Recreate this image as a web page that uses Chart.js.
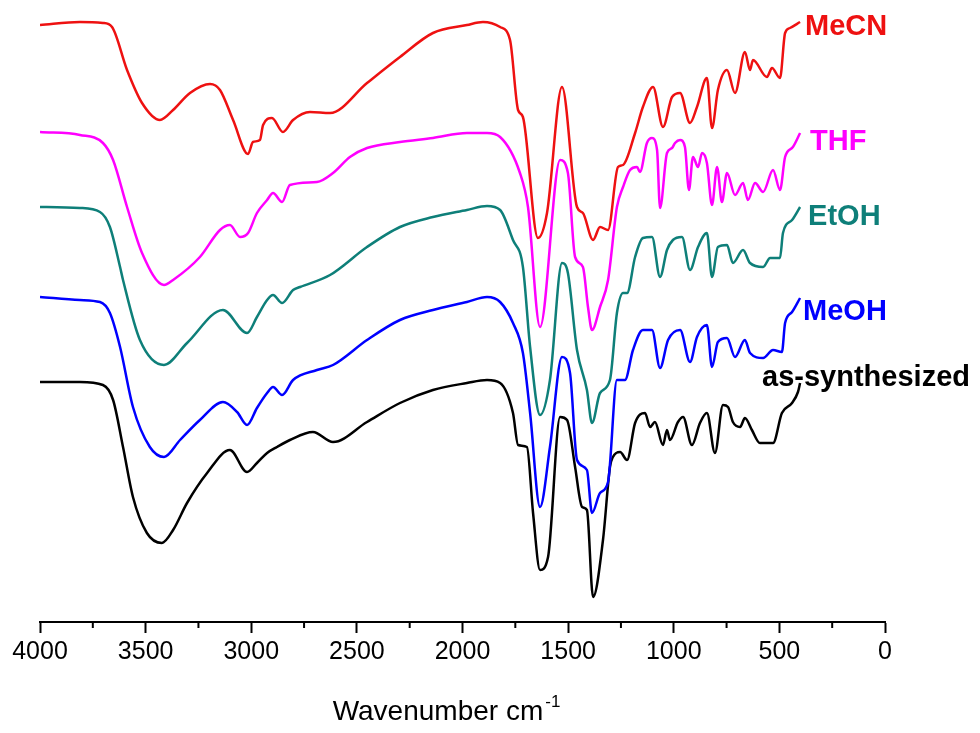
<!DOCTYPE html>
<html>
<head>
<meta charset="utf-8">
<script src="https://cdn.jsdelivr.net/npm/chart.js@4.4.0/dist/chart.umd.min.js"></script>
<style>
  html, body { margin: 0; padding: 0; background: #fff; }
  #wrap { width: 980px; height: 733px; }
</style>
</head>
<body>
<div id="wrap"><canvas id="irChart" width="980" height="733"></canvas></div>
<script>
// wavenumbers (cm-1) and offset transmittance (arbitrary units)
const mecnX = [4000,3811,3702,3659,3588,3517,3432,3370,3290,3195,3148,3086,3015,2992,2959,2944,2902,2850,2802,2722,2627,2452,2296,2140,1979,1903,1822,1775,1737,1714,1643,1600,1529,1458,1430,1382,1349,1311,1264,1240,1183,1146,1098,1051,1008,970,923,890,843,819,791,748,710,663,639,625,559,535,497,473,450,402];
const mecnY = [597,600,599,595,552,519,502,512,529,538,532,502,468,480,482,497,504,490,502,510,509,539,565,589,597,600,595,582,512,505,384,409,535,415,409,382,395,392,455,457,489,515,535,495,525,529,499,515,544,494,532,552,529,570,552,562,545,554,544,589,594,600];

const thfX = [4000,3811,3702,3654,3588,3517,3413,3370,3243,3148,3101,3053,3015,2973,2925,2897,2854,2817,2689,2613,2533,2452,2296,2140,1979,1884,1822,1728,1690,1633,1538,1501,1467,1430,1406,1387,1349,1311,1269,1240,1207,1174,1160,1127,1103,1079,1065,1032,1008,994,970,947,928,909,885,866,843,819,795,772,748,710,672,649,615,577,530,497,473,436,402];
const thfY = [490,487,479,462,415,369,337,342,365,392,397,385,389,409,422,429,420,437,440,449,465,474,480,484,489,489,485,449,415,295,462,449,365,355,315,292,315,342,415,435,452,455,450,479,484,472,414,469,474,479,482,475,432,465,455,469,459,417,455,420,449,427,439,422,439,430,452,432,465,475,489];

const etohX = [4000,3811,3716,3669,3621,3607,3527,3413,3304,3134,3020,2973,2925,2897,2854,2802,2769,2627,2452,2296,2140,1979,1884,1822,1761,1714,1680,1633,1586,1529,1501,1458,1411,1387,1349,1302,1269,1240,1221,1183,1146,1103,1065,1032,1004,961,923,885,843,819,791,748,720,672,639,577,544,497,483,440,402];
const etohY = [415,414,410,395,355,342,282,257,279,312,289,305,322,327,319,332,335,347,375,395,405,412,416,412,382,355,275,207,242,359,349,272,232,199,229,242,309,329,329,365,384,385,345,372,382,385,352,375,389,345,375,377,359,372,359,355,364,364,389,402,415];

const meohX = [4000,3811,3716,3669,3621,3560,3480,3413,3337,3243,3134,3067,3020,2973,2925,2897,2854,2802,2689,2613,2452,2296,2140,1979,1884,1822,1761,1714,1680,1633,1586,1529,1491,1458,1411,1387,1349,1311,1269,1231,1193,1146,1103,1065,1027,970,923,890,843,819,791,748,710,663,639,577,530,488,473,440,402];
const meohY = [325,322,320,309,275,215,175,165,182,202,220,210,197,214,229,235,227,242,252,257,282,302,312,320,325,320,299,269,209,115,175,265,249,162,152,109,129,140,242,242,272,292,292,254,282,292,260,285,297,255,280,284,265,282,269,264,272,270,299,310,324];

const asX = [4000,3811,3702,3654,3607,3560,3494,3423,3370,3304,3209,3101,3020,2973,2925,2878,2817,2708,2613,2452,2296,2140,1979,1884,1822,1761,1737,1695,1666,1633,1595,1538,1505,1467,1434,1411,1382,1335,1302,1288,1254,1221,1183,1136,1112,1089,1051,1032,1018,980,956,914,876,843,805,767,743,720,686,663,630,592,530,488,440,412,402];
const asY = [240,240,237,222,175,125,89,79,92,119,149,172,150,159,169,175,182,190,180,200,219,232,239,242,239,209,177,175,109,52,65,205,202,155,115,112,25,82,155,165,170,162,199,209,195,200,177,192,182,200,205,177,199,209,169,217,215,200,195,204,192,179,179,209,219,230,239];

const seriesNames = ['MeCN', 'THF', 'EtOH', 'MeOH', 'as-synthesized'];
const xTicks = [4000, 3500, 3000, 2500, 2000, 1500, 1000, 500, 0];
const xMinorTicks = [3750, 3250, 2750, 2250, 1750, 1250, 750, 250];

function pts(xs, ys) {
  return xs.map((x, i) => ({ x: x, y: ys[i] }));
}

function line(name, xs, ys, color, dx, dy) {
  return {
    label: name,
    data: pts(xs, ys),
    borderColor: color,
    borderWidth: 2.5,
    pointRadius: 0,
    fill: false,
    cubicInterpolationMode: 'monotone',
    labelDx: dx,
    labelDy: dy
  };
}

const extras = {
  id: 'extras',
  afterDraw(chart) {
    const ctx = chart.ctx;
    const area = chart.chartArea;
    const xs = chart.scales.x;
    ctx.save();

    // minor ticks
    ctx.strokeStyle = '#000';
    ctx.lineWidth = 2;
    xMinorTicks.forEach(v => {
      const px = xs.getPixelForValue(v);
      ctx.beginPath();
      ctx.moveTo(px, area.bottom);
      ctx.lineTo(px, area.bottom + 6);
      ctx.stroke();
    });

    // series labels at the end of each trace
    ctx.font = "bold 29px 'Liberation Sans', Arial, sans-serif";
    ctx.textBaseline = 'middle';
    ctx.textAlign = 'left';
    chart.data.datasets.forEach((ds, i) => {
      const meta = chart.getDatasetMeta(i);
      const last = meta.data[meta.data.length - 1];
      ctx.fillStyle = ds.borderColor;
      ctx.fillText(ds.label, last.x + ds.labelDx, last.y + ds.labelDy);
    });

    // axis title with superscript
    const main = 'Wavenumber cm';
    const sup = '-1';
    ctx.fillStyle = '#000';
    ctx.textBaseline = 'alphabetic';
    ctx.font = "28px 'Liberation Sans', Arial, sans-serif";
    const w1 = ctx.measureText(main).width;
    ctx.font = "17px 'Liberation Sans', Arial, sans-serif";
    const w2 = ctx.measureText(sup).width;
    const x0 = (area.left + area.right) / 2 - 17 - (w1 + w2) / 2;
    const yBase = area.bottom + 98;
    ctx.font = "28px 'Liberation Sans', Arial, sans-serif";
    ctx.fillText(main, x0, yBase);
    ctx.font = "17px 'Liberation Sans', Arial, sans-serif";
    ctx.fillText(sup, x0 + w1 + 2, yBase - 13);

    ctx.restore();
  }
};

new Chart(document.getElementById('irChart'), {
  type: 'line',
  data: {
    datasets: [
      line(seriesNames[0], mecnX, mecnY, '#ee1111', 5, 5),
      line(seriesNames[1], thfX, thfY, '#ff00ff', 10, 9),
      line(seriesNames[2], etohX, etohY, '#0e7f79', 8, 10),
      line(seriesNames[3], meohX, meohY, '#0000ff', 3, 14),
      line(seriesNames[4], asX, asY, '#000000', -38, -5)
    ]
  },
  options: {
    responsive: false,
    animation: false,
    devicePixelRatio: 1,
    layout: { padding: { left: 40, right: 95, top: 12, bottom: 0 } },
    plugins: {
      legend: { display: false },
      tooltip: { enabled: false }
    },
    scales: {
      x: {
        type: 'linear',
        reverse: true,
        min: 0,
        max: 4000,
        border: { display: true, color: '#000', width: 2 },
        grid: { drawOnChartArea: false, drawTicks: true, tickLength: 11, tickWidth: 2, tickColor: '#000' },
        ticks: {
          stepSize: 500,
          autoSkip: false,
          maxRotation: 0,
          padding: 4,
          color: '#000',
          font: { family: "'Liberation Sans', Arial, sans-serif", size: 25 },
          callback: v => xTicks.includes(v) ? String(v) : ''
        },
        afterFit(scale) { scale.height = 111; }
      },
      y: {
        display: false,
        min: 0,
        max: 610
      }
    }
  },
  plugins: [extras]
});
</script>
</body>
</html>
